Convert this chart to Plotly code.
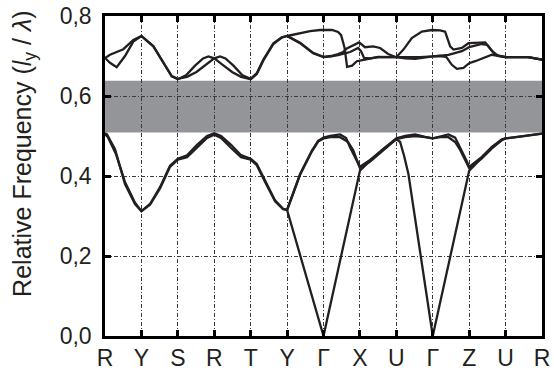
import plotly.graph_objects as go

# k-path labels (high-symmetry points)
k_labels = ["R", "Y", "S", "R", "T", "Y", "Γ", "X", "U", "Γ", "Z", "U", "R"]

# photonic band gap (relative frequency)
gap_low = 0.509
gap_high = 0.638

# --- lower bands ---
band1_x = [0, 0.055, 0.275, 0.549, 0.824, 1.0, 1.236, 1.511, 1.786, 2.0, 2.253, 2.527, 2.802, 3.0, 3.187,
           3.462, 3.736, 4.0, 4.168, 4.396, 4.670, 4.890, 5.0, 6.0, 7.0, 7.28, 7.637, 8.0, 8.104, 8.214,
           8.332, 9.0, 10.0, 10.349, 10.624, 10.898, 11.0, 11.45, 12.0]
band1_y = [0.507, 0.504, 0.467, 0.38, 0.33, 0.312, 0.33, 0.372, 0.426, 0.443, 0.452, 0.478, 0.50, 0.507, 0.50,
           0.478, 0.452, 0.443, 0.43, 0.388, 0.339, 0.318, 0.315, 0.0, 0.413, 0.438, 0.467, 0.492, 0.485, 0.45,
           0.405, 0.0, 0.413, 0.446, 0.471, 0.49, 0.494, 0.499, 0.506]

band2_x = [0, 0.08, 0.30, 0.549, 0.824, 1.0, 1.236, 1.511, 1.786, 2.0, 2.253, 2.527, 2.802, 3.0, 3.187,
           3.462, 3.736, 4.0, 4.168, 4.396, 4.670, 4.890, 5.0, 5.357, 5.679, 5.852, 6.0, 6.181, 6.456, 6.621,
           6.731, 6.915, 7.0, 7.28, 7.637, 8.0, 8.242, 8.516, 8.79, 9.0, 9.25, 9.431, 9.615, 9.8, 9.918,
           10.0, 10.349, 10.624, 10.898, 11.0, 11.45, 12.0]
band2_y = [0.505, 0.497, 0.455, 0.385, 0.333, 0.312, 0.328, 0.369, 0.423, 0.441, 0.447, 0.470, 0.495, 0.503, 0.495,
           0.470, 0.447, 0.441, 0.427, 0.385, 0.337, 0.317, 0.315, 0.405, 0.463, 0.488, 0.496, 0.50, 0.504, 0.495,
           0.471, 0.438, 0.423, 0.440, 0.468, 0.494, 0.50, 0.504, 0.498, 0.494, 0.50, 0.504, 0.496, 0.463, 0.44,
           0.423, 0.448, 0.473, 0.492, 0.494, 0.499, 0.506]

band3_x = [5.0, 5.357, 5.679, 5.852, 6.0, 6.181, 6.456, 6.676, 6.813, 6.923, 7.0, 7.28, 7.637, 8.0, 8.242,
           8.516, 8.79, 9.0, 9.203, 9.431, 9.615, 9.753, 9.89, 10.0, 10.349, 10.624, 10.898, 11.0]
band3_y = [0.315, 0.403, 0.461, 0.486, 0.494, 0.497, 0.497, 0.485, 0.465, 0.44, 0.42, 0.436, 0.465, 0.492, 0.497,
           0.50, 0.497, 0.494, 0.497, 0.497, 0.485, 0.465, 0.44, 0.42, 0.444, 0.469, 0.49, 0.494]

# --- upper bands ---
band4_x = [0, 0.137, 0.321, 0.549, 0.777, 1.0, 1.327, 1.602, 1.832, 2.0, 2.225, 2.473, 2.692, 2.841, 3.0,
           3.214, 3.489, 3.736, 4.0, 4.168, 4.349, 4.624, 4.854, 5.0, 5.357, 5.714, 6.0, 6.209, 6.401, 6.731,
           6.951, 7.03, 7.115, 7.28, 7.5, 8.0, 8.242, 8.516, 8.79, 9.0, 9.203, 9.368, 9.524, 9.662, 9.843,
           10.0, 10.165, 10.624, 11.0, 11.62, 12.0]
band4_y = [0.695, 0.683, 0.672, 0.70, 0.736, 0.750, 0.724, 0.682, 0.649, 0.642, 0.652, 0.676, 0.694, 0.699, 0.694,
           0.679, 0.66, 0.648, 0.642, 0.655, 0.689, 0.73, 0.746, 0.750, 0.732, 0.707, 0.697, 0.699, 0.702, 0.71,
           0.72, 0.712, 0.695, 0.694, 0.697, 0.697, 0.694, 0.693, 0.697, 0.699, 0.70, 0.698, 0.678, 0.668, 0.670,
           0.682, 0.687, 0.703, 0.697, 0.697, 0.691]

band5_x = [0, 0.137, 0.321, 0.503, 0.777, 1.0, 1.327, 1.602, 1.832, 2.0, 2.253, 2.511, 2.786, 3.0, 3.159,
           3.308, 3.527, 3.775, 4.0, 4.168, 4.349, 4.624, 4.854, 5.0, 5.357, 5.714, 6.0, 6.209, 6.401, 6.538,
           6.64, 6.786, 6.978, 7.14, 7.36, 7.555, 7.775, 8.0, 8.379, 8.654, 9.0, 9.431, 9.8, 10.0, 10.349,
           10.495, 10.632, 10.797, 11.0, 11.62, 12.0]
band5_y = [0.695, 0.703, 0.71, 0.717, 0.740, 0.750, 0.725, 0.683, 0.650, 0.643, 0.648, 0.66, 0.679, 0.694, 0.699,
           0.694, 0.676, 0.652, 0.643, 0.657, 0.691, 0.732, 0.747, 0.750, 0.733, 0.708, 0.698, 0.70, 0.705, 0.71,
           0.719, 0.726, 0.734, 0.722, 0.724, 0.72, 0.705, 0.697, 0.696, 0.697, 0.699, 0.703, 0.712, 0.722, 0.730,
           0.728, 0.712, 0.70, 0.697, 0.697, 0.691]

band6_x = [5.0, 5.357, 5.632, 5.907, 6.0, 6.236, 6.401, 6.484, 6.58, 6.648, 6.786, 6.915, 7.14, 7.5, 8.0,
           8.195, 8.425, 8.70, 8.975, 9.203, 9.34, 9.478, 9.568, 9.8, 9.981, 10.44, 10.53, 10.714, 11.0, 11.62, 12.0]
band6_y = [0.750, 0.757, 0.762, 0.765, 0.765, 0.765, 0.760, 0.752, 0.72, 0.673, 0.676, 0.687, 0.691, 0.698, 0.697,
           0.716, 0.745, 0.761, 0.765, 0.764, 0.761, 0.724, 0.716, 0.72, 0.732, 0.734, 0.724, 0.703, 0.697, 0.697, 0.691]

bands = [(band1_x, band1_y), (band2_x, band2_y), (band3_x, band3_y),
         (band4_x, band4_y), (band5_x, band5_y), (band6_x, band6_y)]

y_title = "Relative Frequency (<i>l</i><sub>y</sub> / <i>λ</i>)"

FONT = "Liberation Sans, Arial, Helvetica, sans-serif"
INK = "#231f20"

fig = go.Figure()
for bx, by in bands:
    fig.add_trace(go.Scatter(x=bx, y=by, mode="lines",
                             line=dict(color=INK, width=2.3), showlegend=False, hoverinfo="skip"))

fig.add_shape(type="rect", xref="x", yref="y", x0=0, x1=len(k_labels) - 1,
              y0=gap_low, y1=gap_high, fillcolor="#939598", line=dict(width=0), layer="below")

axis_common = dict(showline=True, linecolor="black", linewidth=2.5, mirror="allticks",
                   ticks="inside", ticklen=6, tickwidth=2.5, tickcolor="black",
                   showgrid=True, gridcolor="#3a3a3a", gridwidth=1, griddash="4px,2px,1px,2px",
                   zeroline=False, automargin=False)

fig.update_xaxes(range=[0, len(k_labels) - 1], tickmode="array",
                 tickvals=list(range(len(k_labels))), ticktext=k_labels,
                 tickfont=dict(family=FONT, size=23, color=INK), ticklabelstandoff=0,
                 **axis_common)
fig.update_yaxes(range=[0, 0.8], tickmode="array", tickvals=[0, 0.2, 0.4, 0.6, 0.8],
                 tickformat=".1f", tickfont=dict(family=FONT, size=23, color=INK),
                 ticklabelstandoff=6, **axis_common)

fig.add_annotation(text=y_title, textangle=-90, xref="paper", yref="paper",
                   x=-0.187, y=0.57, xanchor="center", yanchor="middle", showarrow=False,
                   font=dict(family=FONT, size=25, color=INK))

fig.update_layout(width=554, height=371, margin=dict(l=105, r=12, t=16, b=35),
                  paper_bgcolor="white", plot_bgcolor="white", separators=", ",
                  font=dict(family=FONT, color=INK))

fig.write_html("out.html")
